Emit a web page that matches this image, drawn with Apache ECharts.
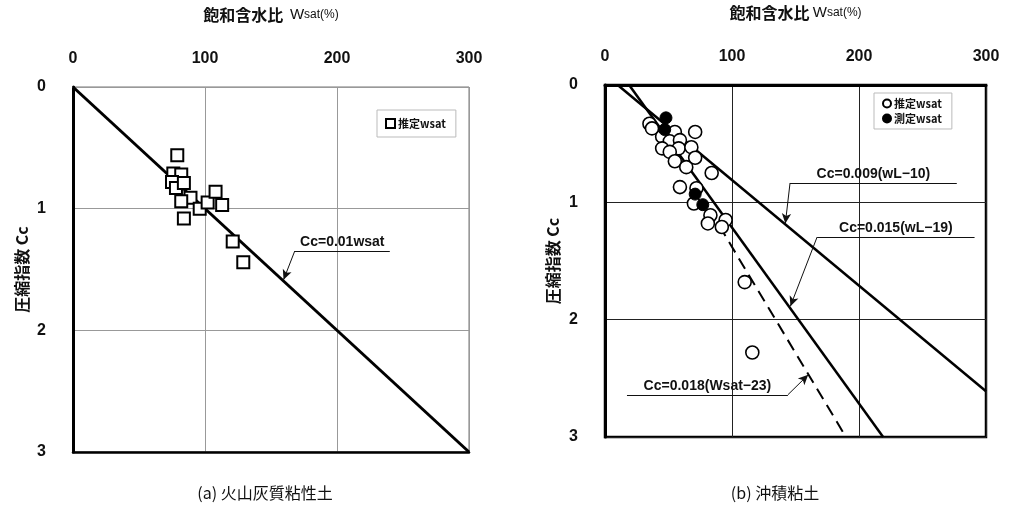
<!DOCTYPE html>
<html>
<head>
<meta charset="utf-8">
<script src="https://cdn.jsdelivr.net/npm/echarts@6/dist/echarts.min.js"></script>
<style>
html,body{margin:0;padding:0;background:#fff;}
#chart{width:1019px;height:514px;}
</style>
</head>
<body>
<div id="chart"></div>
<script>
// ---- data ----
const xTicks = [0, 100, 200, 300];
const yTicks = [0, 1, 2, 3];
// (a) volcanic-ash clay: estimated wsat vs Cc
const volcanicEst = [[79,0.56],[76,0.71],[82,0.72],[75,0.78],[78,0.83],[84,0.79],[89,0.91],[82,0.94],[96,1.00],[102,0.95],[108,0.86],[113,0.97],[84,1.08],[121,1.27],[129,1.44]];
// (b) alluvial clay
const alluvialEst = [[35,0.33],[37,0.37],[55,0.40],[71,0.40],[45,0.44],[51,0.48],[59,0.47],[45,0.54],[58,0.54],[68,0.53],[51,0.57],[55,0.65],[64,0.70],[71,0.62],[84,0.75],[59,0.87],[72,0.88],[70,1.01],[83,1.11],[81,1.18],[95,1.15],[92,1.21],[110,1.68],[116,2.28]];
const alluvialMeas = [[48,0.28],[47,0.38],[71,0.93],[77,1.02]];
// regression lines (endpoints)
const lineA = [[0,0],[300,3]];
const lineB1 = [[10,0],[300,2.61]];
const lineB2 = [[19,0],[219,3]];
const lineB3 = [[90,1.2],[189.7,3]];

const xTitleA = '{a|飽和含水比}  {b|W}{c|sat(%)}';
const xTitleB = '{a|飽和含水比} {b|W}{c|sat(%)}';
const yTitle = '圧縮指数 Cc';
const capA = '(a) 火山灰質粘性土';
const capB = '(b) 沖積粘土';
const annA = 'Cc=0.01wsat';
const annB1 = 'Cc=0.009(wL−10)';
const annB2 = 'Cc=0.015(wL−19)';
const annB3 = 'Cc=0.018(Wsat−23)';
const legendNames = {a_est:'推定wsat', b_est:'推定wsat', b_meas:'測定wsat'};

const chart = echarts.init(document.getElementById('chart'), null, {renderer:'canvas'});
const font = 'Liberation Sans, Arial, Noto Sans CJK JP, sans-serif';
const cjk = 'Noto Sans CJK JP, Liberation Sans, sans-serif';

const xRich = {
  a:{fontFamily:cjk, fontWeight:'bold', fontSize:16, color:'#111'},
  b:{fontFamily:'Liberation Sans Narrow, Liberation Sans', fontSize:15, color:'#111'},
  c:{fontFamily:'Liberation Sans Narrow, Liberation Sans', fontSize:12, color:'#111'}
};

function xAxisCfg(grid, name, lineColor, lineWidth, splitColor){
  return {
    type:'value', gridIndex:grid, position:'top', min:0, max:300, interval:100,
    name:name, nameLocation:'middle', nameGap:64,
    nameTextStyle:{rich:xRich},
    axisLine:{show:true, lineStyle:{color:lineColor, width:lineWidth}},
    axisTick:{show:false},
    axisLabel:{margin:20, fontSize:16, fontWeight:'bold', color:'#111', fontFamily:font,
      formatter:(v)=> xTicks.includes(v) ? String(v) : ''},
    splitLine:{show:true, lineStyle:{color:splitColor, width:1}}
  };
}
function yAxisCfg(grid, gap, splitColor){
  return {
    type:'value', gridIndex:grid, inverse:true, min:0, max:3, interval:1,
    name:yTitle, nameLocation:'middle', nameGap:gap, nameRotate:90,
    nameTextStyle:{fontFamily:cjk, fontWeight:'bold', fontSize:16, color:'#111'},
    axisLine:{show:true, lineStyle:{color:'#000', width:3}},
    axisTick:{show:false},
    axisLabel:{margin:27, fontSize:16, fontWeight:'bold', color:'#111', fontFamily:font,
      formatter:(v)=> yTicks.includes(v) ? String(v) : ''},
    splitLine:{show:true, lineStyle:{color:splitColor, width:1}}
  };
}

function ann(text, ux0, uy, ux1, tip){
  return [
    [{coord:[ux0,uy], symbol:'none',
      label:{show:true, formatter:text, position:'insideMiddleTop', distance:2,
        fontFamily:font, fontSize:14, fontWeight:'bold', color:'#111'}},
     {coord:[ux1,uy], symbol:'none'}],
    [{coord:[ux0,uy], symbol:'none', label:{show:false}},
     {coord:tip, symbol:'arrow', symbolSize:[7,10]}]
  ];
}
function annSeries(xi, yi, items){
  return {
    type:'line', xAxisIndex:xi, yAxisIndex:yi, data:[], silent:true, z:4,
    markLine:{silent:true, animation:false, symbol:['none','none'],
      lineStyle:{color:'#111', width:1, type:'solid'},
      data:items}
  };
}

const option = {
  animation:false,
  backgroundColor:'#fff',
  grid:[
    {left:73, top:87, width:396, height:365, show:true, borderColor:'#777', borderWidth:1},
    {left:605, top:85, width:381, height:352, show:true, borderColor:'#000', borderWidth:2.5}
  ],
  xAxis:[
    xAxisCfg(0, xTitleA, '#999', 1, '#999'),
    xAxisCfg(1, xTitleB, '#000', 3, '#222'),
    {type:'value', gridIndex:0, position:'bottom', min:0, max:300, interval:100,
      axisLine:{show:true, lineStyle:{color:'#000', width:2.5}}, axisTick:{show:false},
      axisLabel:{show:false}, splitLine:{show:false}}
  ],
  yAxis:[ yAxisCfg(0, 43, '#999'), yAxisCfg(1, 44, '#222') ],
  legend:[
    {left:377, top:110, orient:'vertical', data:[{name:'a_est', icon:'rect'}],
      formatter:(n)=>legendNames[n], itemWidth:9, itemHeight:9, itemGap:3,
      padding:[8,10,8,8], borderColor:'#bbb', borderWidth:1, backgroundColor:'#fff',
      selectedMode:false,
      textStyle:{fontFamily:cjk, fontWeight:'bold', fontSize:11, color:'#111', padding:[0,0,0,-2]}},
    {left:874, top:93, orient:'vertical', data:[{name:'b_est', icon:'circle'},{name:'b_meas', icon:'circle'}],
      formatter:(n)=>legendNames[n], itemWidth:8, itemHeight:8, itemGap:4,
      padding:[5,10,5,8], borderColor:'#bbb', borderWidth:1, backgroundColor:'#fff',
      selectedMode:false,
      textStyle:{fontFamily:cjk, fontWeight:'bold', fontSize:11, color:'#111', padding:[0,0,0,-2]}}
  ],
  graphic:[
    {type:'text', style:{text:capA, x:265, y:493, align:'center', verticalAlign:'middle',
      font:'16px "Noto Sans CJK JP"', fill:'#111'}},
    {type:'text', style:{text:capB, x:775, y:493, align:'center', verticalAlign:'middle',
      font:'16px "Noto Sans CJK JP"', fill:'#111'}}
  ],
  series:[
    {type:'line', xAxisIndex:0, yAxisIndex:0, data:lineA, symbol:'none', silent:true, z:3,
      lineStyle:{color:'#000', width:3}},
    {name:'a_est', type:'scatter', xAxisIndex:0, yAxisIndex:0, data:volcanicEst, symbol:'rect', symbolSize:12, z:5,
      itemStyle:{color:'#fff', borderColor:'#000', borderWidth:2, opacity:1}},
    annSeries(0, 0, ann(annA, 168, 1.348, 240, [159.5,1.585])),

    {type:'line', xAxisIndex:1, yAxisIndex:1, data:lineB1, symbol:'none', silent:true, z:3,
      lineStyle:{color:'#000', width:2.5}},
    {type:'line', xAxisIndex:1, yAxisIndex:1, data:lineB2, symbol:'none', silent:true, z:3,
      lineStyle:{color:'#000', width:2.5}},
    {type:'line', xAxisIndex:1, yAxisIndex:1, data:lineB3, symbol:'none', silent:true, z:3,
      lineStyle:{color:'#000', width:2, type:[12,7]}},
    {name:'b_est', type:'scatter', xAxisIndex:1, yAxisIndex:1, data:alluvialEst, symbol:'circle', symbolSize:13, z:5,
      itemStyle:{color:'#fff', borderColor:'#000', borderWidth:1.6, opacity:1}},
    {name:'b_meas', type:'scatter', xAxisIndex:1, yAxisIndex:1, data:alluvialMeas, symbol:'circle', symbolSize:12, z:6,
      itemStyle:{color:'#000', borderColor:'#000', borderWidth:1, opacity:1}},
    annSeries(1, 1, ann(annB1, 145.7, 0.835, 277, [142,1.18])),
    annSeries(1, 1, ann(annB2, 167, 1.296, 291, [146,1.885])),
    annSeries(1, 1, ann(annB3, 144, 2.64, 17.3, [160,2.47]))
  ]
};
chart.setOption(option);
</script>
</body>
</html>
